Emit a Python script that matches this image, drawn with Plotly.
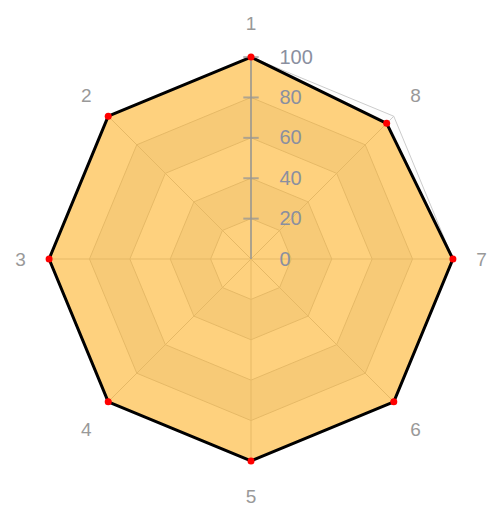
import plotly.graph_objects as go

categories = ["1", "2", "3", "4", "5", "6", "7", "8"]
values = [100, 100, 100, 100, 100, 100, 100, 95]
radial_ticks = [0, 20, 40, 60, 80, 100]
band_colors = ["rgba(250,250,250,0.3)", "rgba(200,200,200,0.3)"]
r_max = radial_ticks[-1]

fig = go.Figure()
closed = categories + [categories[0]]
n = len(closed)

# alternating split-area bands between radial ticks
for i in range(len(radial_ticks) - 1):
    r_in, r_out = radial_ticks[i], radial_ticks[i + 1]
    fig.add_trace(go.Scatterpolar(
        r=[r_out] * n + [r_in] * n, theta=closed + closed[::-1],
        mode="lines", fill="toself",
        fillcolor=band_colors[i % 2], line=dict(width=0),
        hoverinfo="skip", showlegend=False))

# split lines (polygons at each tick)
for t in radial_ticks[1:]:
    fig.add_trace(go.Scatterpolar(
        r=[t] * n, theta=closed, mode="lines",
        line=dict(color="#cccccc", width=1),
        hoverinfo="skip", showlegend=False))

# spokes
for c in categories:
    fig.add_trace(go.Scatterpolar(
        r=[0, r_max], theta=[c, c], mode="lines",
        line=dict(color="#cccccc", width=1),
        hoverinfo="skip", showlegend=False))

# data series area + line
fig.add_trace(go.Scatterpolar(
    r=values + [values[0]], theta=closed,
    mode="lines", fill="toself",
    fillcolor="rgba(255,165,0,0.5)",
    line=dict(color="black", width=3),
    showlegend=False))

# radial axis line with tick marks
fig.add_trace(go.Scatterpolar(
    r=radial_ticks, theta=[categories[0]] * len(radial_ticks),
    mode="lines+markers",
    line=dict(color="rgba(150,150,150,0.75)", width=2),
    marker=dict(symbol="line-ew", size=11,
                line=dict(color="rgba(150,150,150,0.75)", width=2)),
    hoverinfo="skip", showlegend=False))

# data points
fig.add_trace(go.Scatterpolar(
    r=values, theta=categories, mode="markers",
    marker=dict(color="red", size=7),
    cliponaxis=False, showlegend=False))

fig.update_layout(
    width=491, height=509,
    margin=dict(l=41, r=30, t=49, b=40),
    paper_bgcolor="white",
    font=dict(family="Liberation Sans, Arial, sans-serif"),
    polar=dict(
        bgcolor="white",
        gridshape="linear",
        angularaxis=dict(
            type="category", categoryarray=categories,
            direction="counterclockwise", rotation=90,
            showline=False, showgrid=False,
            ticks="outside", ticklen=11, tickcolor="rgba(0,0,0,0)",
            tickfont=dict(size=19, color="#999999"),
        ),
        radialaxis=dict(
            range=[0, 104], angle=90, tickangle=90,
            tickvals=radial_ticks, ticktext=[str(t) for t in radial_ticks],
            showline=False, showgrid=False,
            ticks="outside", ticklen=24, tickcolor="rgba(0,0,0,0)",
            side="clockwise",
            tickfont=dict(size=20, color="#8a8fa0"),
        ),
    ),
)

fig.write_html("out.html",
               config={"displayModeBar": False},
               post_script="document.body.style.margin='0';document.body.style.overflow='hidden';")
